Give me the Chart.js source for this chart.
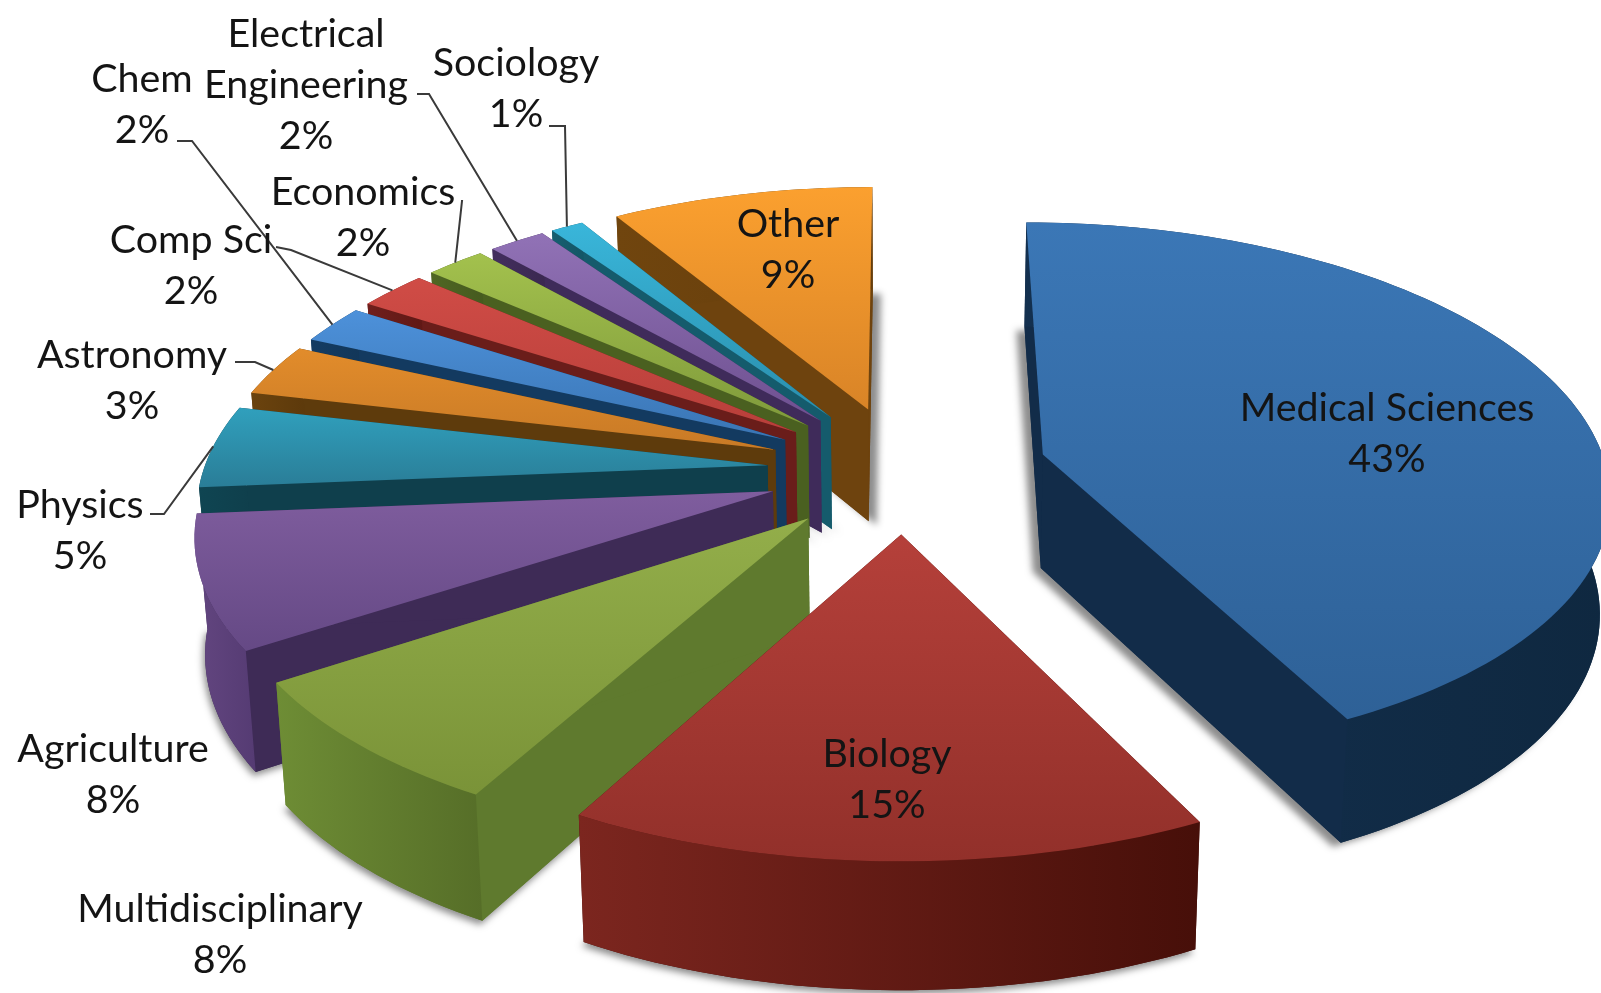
<!DOCTYPE html>
<html>
<head>
<meta charset="utf-8">
<title>Pie chart</title>
<script src="https://cdn.jsdelivr.net/npm/chart.js@4/dist/chart.umd.min.js"></script>
<style>
html,body{margin:0;padding:0;background:#fff;overflow:hidden}
canvas{display:block;filter:blur(0.6px)}
</style>
</head>
<body>
<canvas id="c" width="1601" height="993"></canvas>
<script>
const categories = ["Medical Sciences","Biology","Multidisciplinary","Agriculture","Physics","Astronomy","Chem","Comp Sci","Economics","Electrical Engineering","Sociology","Other"];
const shares = [42.6,15.45,7.75,7.9,4.9,3.1,2.3,2.3,2.0,1.9,1.1,8.7];
const topLight = ["#3b77b6","#b5403a","#93ae4a","#7f5d9e","#30a0bd","#e28c2b","#4d91da","#d04c46","#a3c14d","#9172b6","#39b6da","#fba02f"];
const topDark  = ["#2e6197","#92302a","#7a9338","#654985","#2a7d97","#c87a26","#3a75b4","#b83f3a","#7f9a3b","#6e5090","#2a8eac","#d98427"];
const sideLeft = ["#13304f","#7c261f","#6e8d35","#634680","#0f4552","#6b430e","#143c63","#701f1c","#4f6623","#432e5e","#165f70","#70450e"];
const sideRight= ["#0f2840","#470f09","#566e28","#553b73","#0f3f4c","#5c390b","#123658","#5f1815","#455a1f","#3a2850","#145565","#653d0c"];
const radialSide=["#122c49","#470f09","#5f7a2e","#3e2b56","#0f3f4c","#5e3b0c","#133a60","#6a1d1a","#4a6020","#3f2b5a","#155b6c","#6e430e"];

// label text lines, anchor positions and leader elbows live apart from the data
const labelLines = [["Medical Sciences"],["Biology"],["Multidisciplinary"],["Agriculture"],["Physics"],["Astronomy"],["Chem"],["Comp Sci"],["Economics"],["Electrical","Engineering"],["Sociology"],["Other"]];
const labelAnchor = [[1387,408],[887,754],[220,909],[113,749],[80,505],[132,355],[142,79],[191,240],[363,192],[306,34],[516,63],[788,224]];
const leaderPaths = [null,null,null,null,[[150,514],[164,514]],[[235,362],[255,362]],[[177,141],[192,141]],[[276,247],[291,250]],[[461,201],[462,201]],[[417,94],[429,94]],[[549,126],[565,126]],null];
const explodeBy = [0.255,0.235,0.243,0.243,0.243,0.243,0.243,0.243,0.243,0.243,0.243,0.243];

const scaleX = 1.2, scaleY = 0.566, depth = 114, depthPersp = 0.7, perspX = 0.1365, perspY = 0.13, lineGap = 51;

function projector(el){
  const R = el.outerRadius;
  return (u,v,h)=>{
    const wx = 1/(1-perspX*v), wy = 1/(1-perspY*v);
    return [el.x + R*scaleX*u*wx*(h?0.985:1), el.y + R*scaleY*v*wy + h*depth*Math.pow(wy,depthPersp)];
  };
}
function arcPts(el,p,h,e){
  const mid=(el.startAngle+el.endAngle)/2, u0=e*Math.cos(mid), v0=e*Math.sin(mid), pts=[];
  const n=Math.max(6,Math.ceil((el.endAngle-el.startAngle)*40));
  for(let i=0;i<=n;i++){const a=el.startAngle+(el.endAngle-el.startAngle)*i/n;pts.push(p(u0+Math.cos(a),v0+Math.sin(a),h));}
  return {pts,apex:p(u0,v0,h)};
}
function poly(ctx,pts){ctx.beginPath();pts.forEach((q,i)=>i?ctx.lineTo(q[0],q[1]):ctx.moveTo(q[0],q[1]));ctx.closePath();}
function bbox(pts){const xs=pts.map(q=>q[0]),ys=pts.map(q=>q[1]);return [Math.min(...xs),Math.min(...ys),Math.max(...xs),Math.max(...ys)];}

const pie3d = {
  id:'pie3d',
  beforeDatasetsDraw(chart){
    const ctx=chart.ctx, arcs=chart.getDatasetMeta(0).data;
    const order=arcs.map((el,i)=>({el,i,v:Math.sin((el.startAngle+el.endAngle)/2)}))
      .sort((a,b)=>a.v-b.v);
    order.forEach(({el,i})=>{
      const p=projector(el), t=arcPts(el,p,0,explodeBy[i]), b=arcPts(el,p,1,explodeBy[i]);
      const mid=(el.startAngle+el.endAngle)/2;
      ctx.save();
      ctx.shadowColor='rgba(0,0,0,0.45)';ctx.shadowBlur=7;
      ctx.shadowOffsetY=4;
      ctx.shadowOffsetX=Math.sin(mid)<0.1?(Math.cos(mid)>0?-8:8):-2;
      ctx.fillStyle=radialSide[i];
      poly(ctx,[b.apex,...b.pts]);ctx.fill();
      ctx.restore();
      ctx.fillStyle=radialSide[i];
      poly(ctx,[t.apex,t.pts[0],b.pts[0],b.apex]);ctx.fill();
      const lt=t.pts[t.pts.length-1], lb=b.pts[b.pts.length-1];
      poly(ctx,[t.apex,lt,lb,b.apex]);ctx.fill();
      const wall=[...t.pts,...b.pts.slice().reverse()], bw=bbox(wall);
      const gw=ctx.createLinearGradient(bw[0],0,bw[2],0);
      gw.addColorStop(0,sideLeft[i]);gw.addColorStop(1,sideRight[i]);
      ctx.fillStyle=gw;poly(ctx,wall);ctx.fill();
      const top=[t.apex,...t.pts], bt=bbox(top);
      const gt=ctx.createLinearGradient(0,bt[1],0,bt[3]);
      gt.addColorStop(0,topLight[i]);gt.addColorStop(1,topDark[i]);
      ctx.fillStyle=gt;poly(ctx,top);ctx.fill();
    });
    return false;
  },
  afterDraw(chart){
    const ctx=chart.ctx, arcs=chart.getDatasetMeta(0).data;
    arcs.forEach((el,i)=>{
      const path=leaderPaths[i];
      if(path){
        const p=projector(el), mid=(el.startAngle+el.endAngle)/2, e=explodeBy[i];
        const end=p((e+1)*Math.cos(mid),(e+1)*Math.sin(mid),0);
        ctx.strokeStyle='#3a3a3a';ctx.lineWidth=2;
        ctx.beginPath();path.forEach((q,k)=>k?ctx.lineTo(q[0],q[1]):ctx.moveTo(q[0],q[1]));ctx.lineTo(end[0],end[1]);ctx.stroke();
      }
      const lines=[...labelLines[i],Math.round(shares[i])+"%"];
      ctx.font='39.4px Lato';ctx.fillStyle='#141414';ctx.textAlign='center';ctx.textBaseline='middle';
      lines.forEach((s,k)=>ctx.fillText(s,labelAnchor[i][0],labelAnchor[i][1]+k*lineGap));
    });
  }
};

new Chart(document.getElementById('c'),{
  type:'pie',
  data:{labels:categories,datasets:[{data:shares,backgroundColor:topLight,borderWidth:0}]},
  options:{
    responsive:false,animation:false,
    layout:{padding:{left:207,top:0,right:0,bottom:53}},
    plugins:{legend:{display:false},tooltip:{enabled:false},title:{display:false}}
  },
  plugins:[pie3d]
});
</script>
</body>
</html>
